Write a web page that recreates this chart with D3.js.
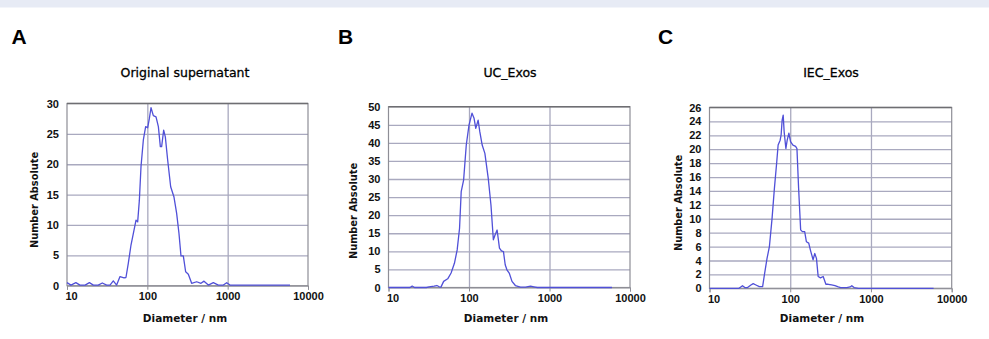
<!DOCTYPE html>
<html>
<head>
<meta charset="utf-8">
<script src="https://cdn.jsdelivr.net/npm/d3@7/dist/d3.min.js"></script>
<style>
  html, body { margin: 0; padding: 0; background: #fff; }
  svg { display: block; }
  .tick text { font-family: "Liberation Sans", Arial, sans-serif; font-weight: bold; font-size: 11px; fill: #111; }
</style>
</head>
<body>
<svg id="chart" width="989" height="339"></svg>
<script>
// x ticks shared by all three panels (diameter, nm)
const xTicks = [10, 100, 1000, 10000];

// A - Original supernatant
const diamA = [10, 11.2, 12.9, 14.5, 16.8, 19.0, 21.3, 24.5, 27.5, 31.2, 34.3, 37.7, 41.5, 45.7, 51.3, 54.2,
  58.0, 62.6, 67.0, 72.3, 75.8, 79.5, 83.4, 89.2, 95.3, 100.9, 105.9, 111.1, 118.8, 128.3, 137.2, 145.2,
  150.7, 159.6, 167.5, 179.1, 195.2, 214.7, 231.7, 247.7, 262.4, 280.5, 299.9, 323.8, 356.2, 411.2,
  465.6, 507.5, 574.5, 663.0, 765.5, 883.9, 972.1, 1069, 5970];
const valA = [0.5, 0.1, 0.5, 0.1, 0.1, 0.5, 0.1, 0.1, 0.45, 0.1, 0.1, 0.8, 0.1, 1.5, 1.3, 1.35,
  3.7, 6.7, 8.6, 10.8, 10.5, 14, 19.6, 24, 26.2, 26, 27.5, 29.3, 28, 27.8, 26.2, 22.9,
  22.9, 25.6, 24.5, 20.7, 16.3, 14.6, 11.9, 8.6, 4.9, 4.9, 2.3, 1.9, 0.4, 0.65,
  0.4, 0.75, 0.1, 0.5, 0.1, 0.1, 0.5, 0.1, 0.1];
const yTicksA = [0, 5, 10, 15, 20, 25, 30];

// B - UC_Exos
const diamB = [10, 18.5, 19.7, 21, 29.5, 31.9, 36.9, 39.9, 42.7, 44.8, 48.4, 54.4, 59.9, 65.9, 71.3, 76.3,
  80.0, 85.7, 92.5, 100, 109, 115.6, 121.4, 129.8, 136.2, 145.8, 157.5, 173.4, 187.4, 200.7, 210.7,
  223.4, 239, 253, 268, 281.7, 295.8, 316, 342, 376.6, 435.6, 503.7, 582, 641, 706, 5970];
const valB = [0, 0, 0.4, 0, 0, 0.2, 0.37, 0.55, 0.2, 0.1, 1.7, 2.4, 4.0, 6.7, 10.4, 16.4,
  26.5, 29.7, 39.4, 44.9, 48.2, 46.8, 44.0, 46.3, 43.1, 39.4, 37.1, 30.2, 22.8, 13.2, 14.5,
  15.9, 10.9, 10.1, 9.9, 6.3, 4.9, 4.0, 1.7, 0.55, 0.1, 0.1, 0.37, 0.2, 0, 0];
const yTicksB = [0, 5, 10, 15, 20, 25, 30, 35, 40, 45, 50];

// C - IEC_Exos
const diamC = [10, 23.2, 24.4, 25.6, 27.4, 29.6, 32.6, 34.8, 37.6, 41.4, 45.5, 47.8, 51.6, 55.2, 59.6, 63.7,
  68.1, 70.8, 75, 77.2, 79.4, 81.8, 84.1, 88.3, 91.7, 96.2, 100.9, 108, 116.6, 121.1, 127, 134.6,
  141.3, 151, 158.5, 169.5, 177.8, 191.9, 201.4, 211.3, 221.8, 237.1, 255.9, 276.4, 295.7, 325.6,
  358, 394, 421.7, 501, 552, 579, 618, 701, 5970];
const valC = [0, 0, 0.2, 0.38, 0.1, 0.1, 0.48, 0.67, 0.48, 0.24, 0.24, 1.9, 4.3, 6.0, 10.1, 14.4,
  18.2, 20.6, 21.3, 22.1, 24.2, 24.9, 22.5, 20.1, 21.3, 22.3, 21.1, 20.6, 20.4, 20.1, 14.4, 8.4,
  8.15, 8.15, 6.7, 6.5, 5.5, 4.1, 5.0, 4.3, 1.7, 1.5, 1.7, 0.58, 0.58, 0.48,
  0.38, 0.2, 0.1, 0.1, 0.2, 0.38, 0.1, 0, 0];
const yTicksC = [0, 2, 4, 6, 8, 10, 12, 14, 16, 18, 20, 22, 24, 26];

const panels = [
  {letter: 'A', title: 'Original supernatant', diam: diamA, vals: valA, yTicks: yTicksA,
   left: 67, right: 308, top: 103.5, bottom: 285.7, letterX: 11.5, titleX: 185, xLabelX: 185, yLabelX: 34, yLabelY: 200},
  {letter: 'B', title: 'UC_Exos', diam: diamB, vals: valB, yTicks: yTicksB,
   left: 388.5, right: 630, top: 106.7, bottom: 287.5, letterX: 338, titleX: 510, xLabelX: 506, yLabelX: 353.5, yLabelY: 211},
  {letter: 'C', title: 'IEC_Exos', diam: diamC, vals: valC, yTicks: yTicksC,
   left: 709.5, right: 951.7, top: 107.5, bottom: 288.3, letterX: 658, titleX: 831, xLabelX: 822, yLabelX: 678.5, yLabelY: 203}
];

const svg = d3.select('#chart');

// pale band along the top edge
svg.append('rect')
  .attr('x', 0).attr('y', 0)
  .attr('width', 989).attr('height', 7.5)
  .attr('fill', '#e7ebf5');

panels.forEach(p => {
  const w = p.right - p.left;
  const h = p.bottom - p.top;
  const yMax = p.yTicks[p.yTicks.length - 1];

  const x = d3.scaleLog().domain([10, 10000]).range([0, w]);
  const y = d3.scaleLinear().domain([0, yMax]).range([h, 0]);

  const g = svg.append('g').attr('transform', `translate(${p.left},${p.top})`);

  // horizontal grid
  g.append('g')
    .call(d3.axisLeft(y).tickValues(p.yTicks.slice(1, -1)).tickSize(-w).tickFormat(''))
    .call(s => s.select('.domain').remove())
    .call(s => s.selectAll('line').attr('stroke', '#a9a9bf').attr('stroke-width', 1.3));

  // vertical grid at the inner decades
  g.append('g')
    .attr('transform', `translate(0,${h})`)
    .call(d3.axisBottom(x).tickValues(xTicks.slice(1, -1)).tickSize(h).tickFormat(''))
    .call(s => s.select('.domain').remove())
    .call(s => s.selectAll('line').attr('stroke', '#a9a9bf').attr('stroke-width', 1.3)
      .attr('y2', -h));

  // frame
  g.append('rect')
    .attr('width', w).attr('height', h)
    .attr('fill', 'none')
    .attr('stroke', '#8e8e96')
    .attr('stroke-width', 1.2);
  g.append('line')
    .attr('x1', 0).attr('x2', w)
    .attr('stroke', '#6e6e72').attr('stroke-width', 1.4);

  // x axis with small outward ticks
  g.append('g')
    .attr('transform', `translate(0,${h})`)
    .call(d3.axisBottom(x).tickValues(xTicks).tickSize(4).tickPadding(3).tickFormat(d3.format('d')))
    .call(s => s.select('.domain').attr('stroke', '#8e8e96'))
    .call(s => s.selectAll('line').attr('stroke', '#8e8e96'))
    .call(s => s.selectAll('text').attr('dx', (d, i) => i === 0 ? 4 : 0));

  // y axis labels only
  g.append('g')
    .call(d3.axisLeft(y).tickValues(p.yTicks).tickSize(0).tickPadding(8).tickFormat(d3.format('d')))
    .call(s => s.select('.domain').remove());

  const data = p.diam.map((d, i) => [d, p.vals[i]]);
  g.append('path')
    .datum(data)
    .attr('fill', 'none')
    .attr('stroke', '#5050d8')
    .attr('stroke-width', 1.3)
    .attr('stroke-linejoin', 'round')
    .attr('d', d3.line().x(d => x(d[0])).y(d => y(d[1])));

  // panel letter
  svg.append('text')
    .attr('x', p.letterX).attr('y', 43.5)
    .attr('font-family', 'Liberation Sans, Arial, sans-serif')
    .attr('font-weight', 'bold')
    .attr('font-size', 21)
    .text(p.letter);

  // title
  svg.append('text')
    .attr('x', p.titleX).attr('y', 77)
    .attr('text-anchor', 'middle')
    .attr('font-family', 'DejaVu Sans, sans-serif')
    .attr('font-size', 12.5)
    .attr('fill', '#000')
    .attr('stroke', '#000')
    .attr('stroke-width', 0.3)
    .text(p.title);

  // axis titles
  svg.append('text')
    .attr('x', p.xLabelX).attr('y', 322)
    .attr('text-anchor', 'middle')
    .attr('font-family', 'DejaVu Sans, sans-serif')
    .attr('font-weight', 'bold')
    .attr('font-size', 10.5)
    .attr('fill', '#111')
    .text('Diameter  /  nm');

  svg.append('text')
    .attr('transform', `translate(${p.yLabelX + 3.5},${p.yLabelY}) rotate(-90)`)
    .attr('text-anchor', 'middle')
    .attr('font-family', 'DejaVu Sans, sans-serif')
    .attr('font-weight', 'bold')
    .attr('font-size', 9.8)
    .attr('fill', '#111')
    .text('Number Absolute');
});
</script>
</body>
</html>
